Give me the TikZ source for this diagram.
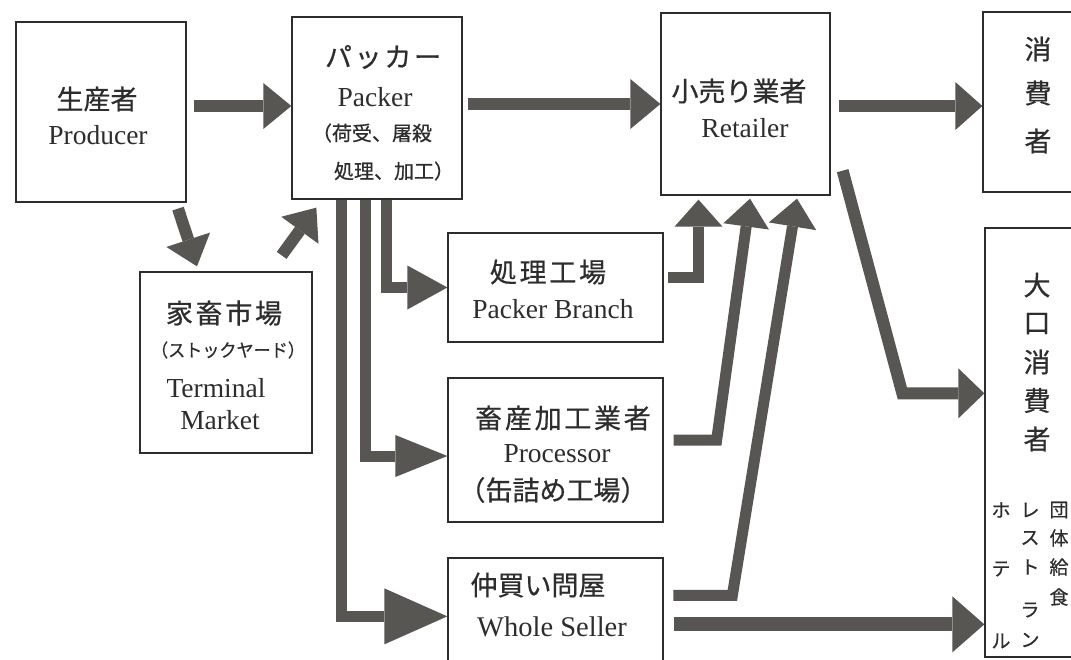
\documentclass[tikz,border=0pt]{standalone}
\usepackage{fontspec}
\setmainfont{Liberation Serif}
\newfontfamily\jp[FakeBold=0.6]{Noto Sans CJK JP}
\newfontfamily\jpw[LetterSpace=10,FakeBold=0.6]{Noto Sans CJK JP}
\usetikzlibrary{arrows.meta,calc}
\definecolor{ag}{RGB}{88,86,82}
\definecolor{tx}{RGB}{45,45,45}
\definecolor{bx}{RGB}{45,45,45}
\begin{document}
\begin{tikzpicture}[x=1pt,y=-1pt,
  box/.style 2 args={draw=bx,line width=1.3pt,rectangle,inner sep=0pt,minimum width=#1,minimum height=#2},
  jl/.style={font=\jp\fontsize{27pt}{30pt}\selectfont,text=tx,inner sep=0pt},
  jw/.style={font=\jpw\fontsize{27pt}{30pt}\selectfont,text=tx,inner sep=0pt},
  js/.style={font=\jp\fontsize{20pt}{24pt}\selectfont,text=tx,inner sep=0pt},
  jt/.style={font=\jp\fontsize{19pt}{22pt}\selectfont,text=tx,inner sep=0pt},
  el/.style={font=\fontsize{27.5pt}{30pt}\selectfont,text=tx,inner sep=0pt},
  ar/.style={draw=ag,line width=12pt,line join=miter,miter limit=20},
  ah/.style 2 args={-{Triangle[length=#1,width=#2,line width=0pt]}}]
\useasboundingbox (0,0) rectangle (1071,659);
\fill[white] (0,0) rectangle (1071,659);
\clip (0,0) rectangle (1071,659);
% boxes
\node[box={170pt}{180pt}] (prod) at (101,112) {};
\node[box={170pt}{182pt}] (packer) at (377,108) {};
\node[box={169pt}{182pt}] (ret) at (745.5,104) {};
\node[box={117pt}{180pt}] (cons) at (1041.5,102) {};
\node[box={172pt}{181pt}] (term) at (226,362.5) {};
\node[box={215pt}{109pt}] (pb) at (555.5,287.5) {};
\node[box={215pt}{144pt}] (proc) at (555.5,450) {};
\node[box={215pt}{132pt}] (ws) at (555.5,624) {};
\node[box={115pt}{429pt}] (big) at (1042.5,442.5) {};
% texts
\node[jl] (prodj) at (97,99) {生産者};
\node[el] (prode) at (98,135) {Producer};
\node[jw] (pkj) at (383,57) {パッカー};
\node[el] (pke) at (375,97) {Packer};
\node[js] (pk3) at (372,133) {（荷受、屠殺};
\node[js] (pk4) at (394,171) {処理、加工）};
\node[jl] (retj) at (739,91) {小売り業者};
\node[el] (rete) at (745,128) {Retailer};
\node[jl] (c1) at (1038,49) {消};
\node[jl] (c2) at (1038,93) {費};
\node[jl] (c3) at (1038,141) {者};
\node[jw] (termj) at (224,313) {家畜市場};
\node[font=\jp\fontsize{18pt}{20pt}\selectfont,text=tx,inner sep=0pt,xscale=0.95] (termk) at (228,350) {（ストックヤード）};
\node[el] (terme1) at (216,388) {Terminal};
\node[el] (terme2) at (220,420) {Market};
\node[jw] (pbj) at (548,272) {処理工場};
\node[el] (pbe) at (553,309) {Packer Branch};
\node[jw] (procj) at (563,418) {畜産加工業者};
\node[el] (proce) at (557,454) {Processor};
\node[jl] (procj2) at (553,490) {（缶詰め工場）};
\node[jl] (wsj) at (538,585) {仲買い問屋};
\node[el,font=\fontsize{28.5pt}{30pt}\selectfont] (wse) at (552,627) {Whole Seller};
\foreach \ch [count=\i] in {大,口,消,費,者}
  \node[jl] (b\i) at (1037,246.5+38.5*\i) {\ch};
\node[jt] (h1) at (1001,510) {ホ};
\node[jt] (h2) at (1001,569) {テ};
\node[jt] (h3) at (1001,641) {ル};
\node[jt] (r1) at (1030,510) {レ};
\node[jt] (r2) at (1030,538) {ス};
\node[jt] (r3) at (1030,567) {ト};
\node[jt] (r4) at (1030,610) {ラ};
\node[jt] (r5) at (1030,640) {ン};
\node[jt] (g1) at (1059,510) {団};
\node[jt] (g2) at (1059,538) {体};
\node[jt] (g3) at (1059,567) {給};
\node[jt] (g4) at (1059,597) {食};
% connector points
\coordinate (s1) at ($(prod.east)+(7,-6)$);
\coordinate (s2) at ($(packer.east)+(5,-4)$);
\coordinate (s3) at ($(ret.east)+(8,2)$);
\coordinate (s4) at ($(prod.south)+(77,6)$);
\coordinate (e4) at ($(term.north)+(-29,-5)$);
\coordinate (s5) at ($(term.north east)+(-31,-16)$);
\coordinate (e5) at ($(packer.south west)+(25,8)$);
\coordinate (s6) at ($(packer.south)+(9,0)$);
\coordinate (s7) at ($(packer.south)+(-12,0)$);
\coordinate (e7) at ($(proc.west)+(0,6)$);
\coordinate (s8) at ($(packer.south)+(-36,0)$);
\coordinate (e8) at ($(ws.north west)+(0,59)$);
\coordinate (s9) at ($(pb.east)+(4,-10)$);
\coordinate (e9) at ($(ret.south)+(-47,4)$);
\coordinate (s10) at ($(proc.east)+(10,-10)$);
\coordinate (k10) at ($(proc.east)+(53,-10)$);
\coordinate (e10) at ($(ret.south)+(4.5,3)$);
\coordinate (s11) at ($(ws.north west)+(226,38)$);
\coordinate (k11) at ($(ws.north west)+(285,38)$);
\coordinate (e11) at ($(ret.south)+(51.5,3)$);
\coordinate (s12) at ($(ret.south east)+(12,-25)$);
\coordinate (k12) at ($(big.north west)+(-82,166)$);
\coordinate (s13) at ($(ws.north west)+(227,67)$);
% connectors
\draw[ar,ah={28pt}{46pt}] (s1) -- (s1 -| packer.west);
\draw[ar,ah={30pt}{50pt}] (s2) -- (s2 -| ret.west);
\draw[ar,ah={27pt}{48pt}] (s3) -- (s3 -| cons.west);
\draw[ar,ah={28pt}{46pt}] (s4) -- (e4);
\draw[ar,ah={28pt}{46pt}] (s5) -- (e5);
\draw[ar,line width=11pt,ah={40pt}{44pt}] (s6) |- (pb.west);
\draw[ar,line width=11pt,ah={52pt}{42pt}] (s7) |- (e7);
\draw[ar,line width=11pt,ah={63pt}{56pt}] (s8) |- (e8);
\draw[ar,line width=11pt,ah={27pt}{48pt}] (s9) -| (e9);
\draw[ar,line width=11pt,ah={28pt}{46pt}] (s10) -- (k10) -- (e10);
\draw[ar,line width=11pt,ah={28pt}{48pt}] (s11) -- (k11) -- (e11);
\draw[ar,ah={26pt}{50pt}] (s12) -- (k12) -- (k12 -| big.west);
\draw[ar,line width=14pt,ah={32pt}{56pt}] (s13) -- (s13 -| big.west);
\end{tikzpicture}
\end{document}
